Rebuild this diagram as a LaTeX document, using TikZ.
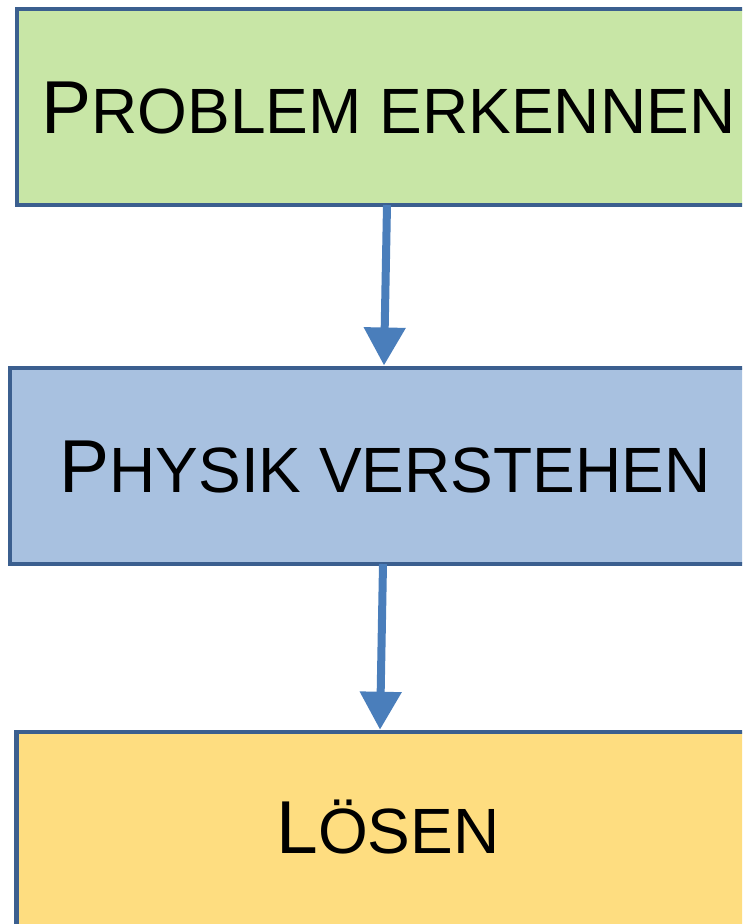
\documentclass[tikz,border=0pt]{standalone}
\usepackage{fontspec}
\setmainfont{Liberation Sans}
\usetikzlibrary{arrows.meta}
\definecolor{bordercol}{RGB}{59,95,143}
\definecolor{arrowcol}{RGB}{74,126,187}
\definecolor{greenfill}{RGB}{200,230,166}
\definecolor{bluefill}{RGB}{168,193,224}
\definecolor{yellowfill}{RGB}{254,221,128}
\newcommand{\bigL}[1]{{\fontsize{75}{75}\selectfont #1}}
\newcommand{\smallL}[1]{{\fontsize{64}{64}\selectfont #1}}
\tikzset{
  stepbox/.style={draw=bordercol, line width=4.5pt, rectangle, inner sep=0pt,
    minimum width=743pt, minimum height=196pt, text height=54pt, text depth=0pt,
    align=center},
  flowarrow/.style={draw=arrowcol, line width=8pt,
    -{Triangle[length=38pt,width=40pt]}}
}
\begin{document}
\begin{tikzpicture}[x=1pt,y=-1pt]
\useasboundingbox (0,0) rectangle (742,924);
\clip (0,0) rectangle (742,924);
\node[stepbox, fill=greenfill] (b1) at (388.5,106.75) {\bigL{P}\smallL{ROBLEM ERKENNEN}};
\node[stepbox, fill=bluefill, minimum width=750pt] (b2) at (385,465.75) {\bigL{P}\smallL{HYSIK VERSTEHEN}};
\node[stepbox, fill=yellowfill, text height=46pt] (b3) at (388,830) {\bigL{L}\smallL{ÖSEN}};
\draw[flowarrow] ([xshift=-1.5pt,yshift=2pt]b1.south) -- ([xshift=-1pt]b2.north);
\draw[flowarrow] ([xshift=-2pt,yshift=2pt]b2.south) -- ([xshift=-8pt]b3.north);
\end{tikzpicture}
\end{document}
